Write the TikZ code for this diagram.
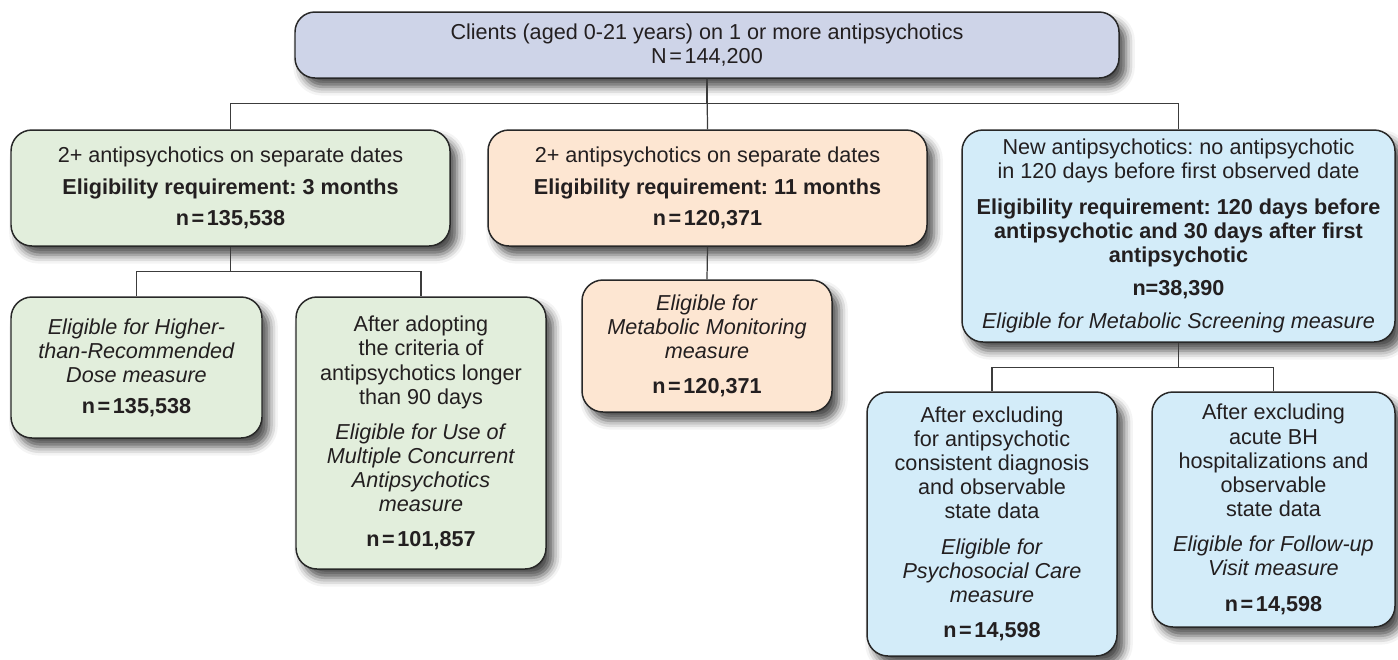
\documentclass[tikz,border=0pt]{standalone}
\usepackage{fontspec}
\setmainfont{Liberation Sans}
\usepackage{tikz}
\usetikzlibrary{shadows.blur}
\frenchspacing

\definecolor{txt}{RGB}{35,31,32}
\definecolor{boxline}{RGB}{40,40,40}
\definecolor{linkgray}{RGB}{60,60,60}
\definecolor{topfill}{RGB}{206,212,232}
\definecolor{grnfill}{RGB}{226,238,220}
\definecolor{orgfill}{RGB}{253,230,210}
\definecolor{blufill}{RGB}{211,236,249}
\newcommand{\boxfont}{\fontsize{12.3pt}{13.7pt}\selectfont}
\newcommand{\eqn}{\kern1.5pt=\kern1.5pt}

\begin{document}
\begin{tikzpicture}[line width=0.7pt,
  box/.style={draw=boxline, line width=0.85pt, rounded corners=0.42cm, align=center,
    inner sep=0pt, text=txt, font=\boxfont,
    blur shadow={shadow xshift=4pt, shadow yshift=-5pt, shadow blur radius=5pt, shadow opacity=70}},
  link/.style={draw=linkgray, line width=0.7pt}]
  \useasboundingbox (0,0) rectangle (27.96,-13.18);

  \node[box, fill=topfill, minimum width=16.48cm, minimum height=1.32cm, rounded corners=0.4cm]
    (clients) at (14.14,-0.90)
    {Clients (aged 0-21 years) on 1 or more antipsychotics\\ N\eqn144,200};

  \node[box, fill=grnfill, minimum width=8.78cm, minimum height=2.32cm] (dose3) at (4.61,-3.76)
    {2+ antipsychotics on separate dates\\[4.3pt]
     \textbf{Eligibility requirement: 3 months}\\[4.3pt]
     \textbf{n\eqn135,538}};
  \node[box, fill=orgfill, minimum width=8.78cm, minimum height=2.32cm] (dose11) at (14.15,-3.76)
    {2+ antipsychotics on separate dates\\[4.3pt]
     \textbf{Eligibility requirement: 11 months}\\[4.3pt]
     \textbf{n\eqn120,371}};
  \node[box, fill=blufill, minimum width=8.66cm, minimum height=4.24cm] (newap) at (23.57,-4.72)
    {New antipsychotics: no antipsychotic\\ in 120 days before first observed date\\[6.5pt]
     \textbf{Eligibility requirement: 120 days before}\\
     \textbf{antipsychotic and 30 days after first}\\
     \textbf{antipsychotic}\\[5pt]
     \textbf{n=38,390}\\[5pt]
     \textit{Eligible for Metabolic Screening measure}};

  \node[box, fill=grnfill, minimum width=5.02cm, minimum height=2.82cm] (higher) at (2.73,-7.35)
    {\textit{Eligible for Higher-}\\ \textit{than-Recommended}\\ \textit{Dose measure}\\[4pt]
     \textbf{n\eqn135,538}};
  \node[box, fill=grnfill, minimum width=5.0cm, minimum height=5.44cm] (multiple) at (8.42,-8.66)
    {After adopting\\ the criteria of\\ antipsychotics longer\\ than 90 days\\[6.5pt]
     \textit{Eligible for Use of}\\ \textit{Multiple Concurrent}\\ \textit{Antipsychotics}\\ \textit{measure}\\[6pt]
     \textbf{n\eqn101,857}};
  \node[box, fill=orgfill, minimum width=5.0cm, minimum height=2.64cm] (monitor) at (14.14,-6.92)
    {\textit{Eligible for}\\ \textit{Metabolic Monitoring}\\ \textit{measure}\\[6pt]
     \textbf{n\eqn120,371}};
  \node[box, fill=blufill, minimum width=5.0cm, minimum height=5.28cm] (psycare) at (19.84,-10.48)
    {After excluding\\ for antipsychotic\\ consistent diagnosis\\ and observable\\ state data\\[6.5pt]
     \textit{Eligible for}\\ \textit{Psychosocial Care}\\ \textit{measure}\\[6.5pt]
     \textbf{n\eqn14,598}};
  \node[box, fill=blufill, minimum width=4.86cm, minimum height=4.70cm] (followup) at (25.47,-10.19)
    {After excluding\\ acute BH\\ hospitalizations and\\ observable\\ state data\\[6.5pt]
     \textit{Eligible for Follow-up}\\ \textit{Visit measure}\\[6.5pt]
     \textbf{n\eqn14,598}};

  % connectors
  \draw[link] (clients.south) -- (dose11.north);
  \draw[link] (clients.south) -- ++(0,-0.5) -| (dose3.north);
  \draw[link] (clients.south) -- ++(0,-0.5) -| (newap.north);
  \draw[link] (dose3.south) -- ++(0,-0.5) -| (higher.north);
  \draw[link] (dose3.south) -- ++(0,-0.5) -| (multiple.north);
  \draw[link] (dose11.south) -- (monitor.north);
  \draw[link] (newap.south) -- ++(0,-0.5) -| (psycare.north);
  \draw[link] (newap.south) -- ++(0,-0.5) -| (followup.north);
\end{tikzpicture}
\end{document}
